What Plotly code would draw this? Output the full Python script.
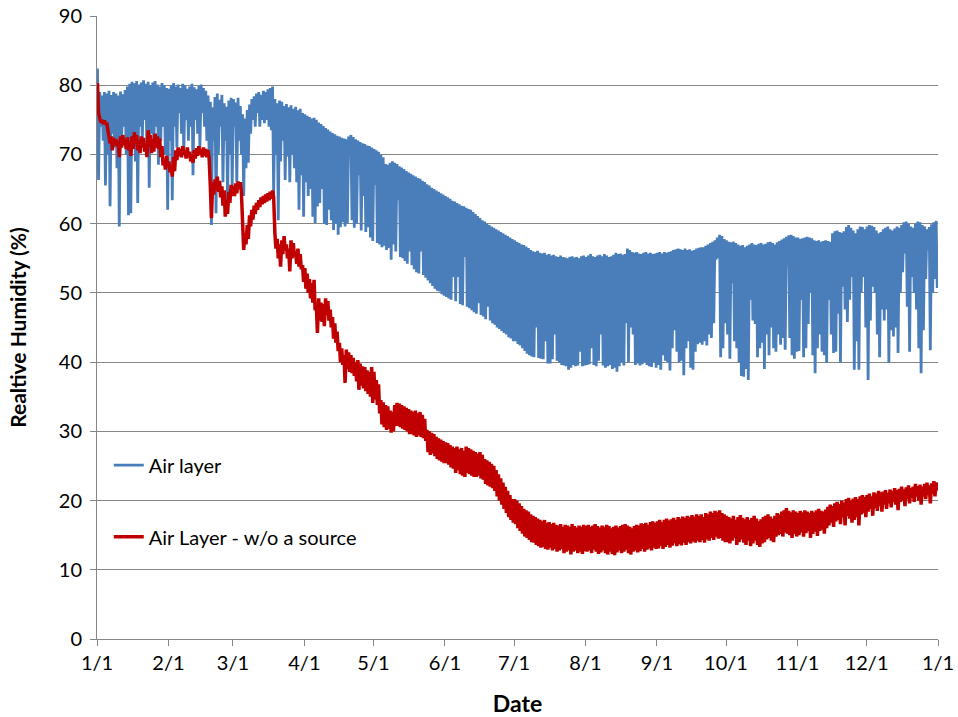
import numpy as np
import pandas as pd
import plotly.graph_objects as go

# Daily max / min relative humidity (%), one row block per month
blue_high = [
    82.4, 79.0, 78.5, 79.0, 78.8, 79.2, 78.6, 79.0, 78.8, 78.5, 79.1, 78.7, 79.3, 79.8, 80.2, 80.5,
    80.3, 80.6, 80.1, 80.4, 80.7, 80.2, 80.5, 80.0, 80.4, 80.6, 80.1, 79.8, 80.3, 80.0, 79.6,  # Jan
    79.5, 80.0, 80.3, 79.8, 80.1, 79.6, 80.2, 80.0, 79.5, 79.8, 80.2, 79.7, 79.4, 79.9,
    80.1, 79.6, 79.2, 78.5, 77.6, 76.8, 78.3, 78.8, 77.9, 78.6, 77.4, 76.9, 77.8, 78.2,  # Feb
    78.0, 77.5, 78.2, 77.0, 75.8, 75.2, 76.4, 77.2, 78.0, 78.4, 78.8, 79.0, 78.6, 79.2, 79.0, 79.4,
    79.6, 79.8, 78.0, 77.4, 77.8, 77.6, 77.0, 77.3, 76.8, 77.1, 76.6, 76.9, 76.4, 76.6, 76.0,  # Mar
    75.8, 75.6, 75.4, 75.2, 75.3, 75.0, 74.6, 74.4, 74.1, 73.8, 73.6, 73.3, 73.1, 72.9, 72.7,
    72.6, 72.4, 72.3, 72.2, 72.6, 72.8, 72.5, 72.2, 72.0, 71.8, 71.6, 71.5, 71.3, 71.2, 71.0,  # Apr
    70.8, 70.6, 70.4, 70.0, 69.6, 68.6, 68.5, 68.8, 69.0, 68.8, 68.6, 68.3, 68.1, 67.9, 67.6, 67.4,
    67.2, 67.0, 66.8, 66.6, 66.5, 66.2, 66.0, 65.7, 65.5, 65.2, 65.0, 64.8, 64.6, 64.4, 64.2,  # May
    64.0, 63.8, 63.6, 63.3, 63.2, 63.0, 62.8, 62.6, 62.5, 62.3, 62.1, 62.0, 61.7, 61.4, 61.1,
    60.8, 60.5, 60.3, 60.0, 59.8, 59.6, 59.4, 59.2, 59.0, 58.8, 58.6, 58.4, 58.2, 58.0, 57.8,  # Jun
    57.6, 57.4, 57.2, 57.0, 56.9, 56.7, 56.5, 56.2, 56.0, 55.9, 56.1, 55.8, 55.7, 55.8, 55.5, 55.6,
    55.4, 55.5, 55.3, 55.2, 55.4, 55.2, 55.1, 55.0, 55.2, 55.3, 55.1, 55.2, 55.0, 55.3, 55.4,  # Jul
    55.2, 55.4, 55.6, 55.3, 55.2, 55.4, 55.5, 55.3, 55.6, 55.4, 55.2, 55.3, 55.5, 55.8, 55.6, 55.7,
    55.5, 55.6, 56.4, 56.2, 55.9, 55.8, 55.9, 55.7, 55.6, 55.8, 55.9, 55.7, 55.8, 55.6, 55.7,  # Aug
    55.8, 55.9, 55.7, 55.9, 55.8, 55.9, 56.0, 56.2, 56.3, 56.4, 56.3, 56.2, 56.4, 56.2, 56.3,
    56.1, 56.2, 56.4, 56.5, 56.6, 56.6, 56.8, 57.0, 57.2, 57.4, 57.6, 58.0, 58.4, 58.2, 57.8,  # Sep
    57.6, 57.4, 57.3, 57.4, 57.2, 57.0, 56.8, 56.9, 56.6, 56.8, 57.0, 57.2, 57.0, 56.9, 57.1, 57.2,
    57.0, 57.1, 57.3, 57.4, 57.2, 57.0, 57.3, 57.5, 57.7, 57.9, 58.1, 58.3, 58.4, 58.2, 58.0,  # Oct
    58.0, 57.8, 57.9, 58.0, 58.1, 58.0, 57.9, 57.6, 57.5, 57.6, 57.4, 57.5, 57.6, 57.5, 57.4,
    58.6, 58.9, 59.0, 58.8, 58.7, 58.9, 59.5, 59.8, 59.4, 59.0, 58.6, 59.2, 59.6, 59.5, 59.2,  # Nov
    59.6, 59.8, 59.7, 59.5, 59.0, 58.6, 58.8, 59.2, 59.4, 59.6, 59.2, 59.0, 59.3, 59.6, 59.4, 59.8,
    60.2, 60.3, 60.0, 59.6, 59.4, 60.0, 60.3, 60.2, 59.8, 59.6, 59.2, 59.5, 59.9, 60.2, 60.4,  # Dec
]
blue_low = [
    66.3, 74.0, 72.0, 65.5, 70.0, 62.5, 73.0, 71.0, 68.0, 59.6, 72.0, 74.0, 70.0, 61.2, 61.5, 73.0,
    69.0, 63.0, 74.0, 72.0, 75.0, 70.0, 65.2, 73.0, 71.0, 74.0, 68.5, 72.0, 74.0, 70.0, 62.0,  # Jan
    72.0, 63.4, 74.0, 71.0, 76.0, 73.0, 70.0, 75.0, 72.0, 74.0, 67.0, 75.0, 73.0, 71.0,
    76.0, 74.0, 72.0, 70.0, 59.8, 72.0, 61.5, 70.0, 74.0, 66.0, 72.0, 63.0, 70.0, 65.3,  # Feb
    74.0, 66.0, 72.0, 70.0, 64.0, 68.0, 68.8, 73.0, 75.0, 74.0, 76.0, 74.0, 75.0, 74.5, 75.0, 74.0,
    73.5, 64.0, 70.0, 60.5, 69.0, 72.0, 66.3, 69.7, 66.0, 70.0, 68.0, 66.0, 62.0, 67.0, 61.0,  # Mar
    66.0, 64.0, 65.0, 61.0, 60.1, 62.5, 63.0, 65.0, 60.0, 59.8, 62.0, 60.5, 59.1, 60.0, 58.4,
    59.5, 60.2, 59.6, 60.0, 71.5, 60.5, 59.4, 60.0, 67.0, 59.0, 64.0, 58.8, 59.5, 58.0, 57.5,  # Apr
    65.6, 57.2, 57.0, 56.6, 56.8, 56.2, 56.5, 54.8, 57.0, 56.0, 63.4, 55.2, 55.0, 54.6, 54.2, 56.0,
    54.0, 53.4, 53.0, 52.8, 56.0, 52.6, 52.2, 51.8, 51.4, 51.0, 50.6, 50.3, 50.2, 49.8, 49.6,  # May
    49.4, 49.2, 49.0, 52.3, 48.8, 52.3, 48.4, 48.2, 55.2, 48.0, 47.8, 47.5, 47.2, 47.0, 48.5,
    46.8, 46.6, 46.2, 48.0, 46.0, 45.6, 45.4, 45.0, 44.8, 44.5, 44.2, 44.0, 43.6, 43.4, 43.0,  # Jun
    43.0, 42.6, 42.4, 42.0, 41.6, 41.2, 41.0, 40.8, 40.7, 45.0, 40.6, 40.5, 40.4, 43.0, 39.8, 39.8,
    40.4, 44.0, 40.2, 40.0, 39.6, 39.5, 39.4, 38.9, 39.2, 39.6, 39.4, 39.5, 41.5, 39.4, 39.5,  # Jul
    39.6, 39.7, 42.0, 39.6, 39.4, 40.2, 44.0, 39.5, 39.2, 39.4, 39.6, 39.0, 39.2, 38.6, 39.4, 40.0,
    39.5, 45.6, 40.0, 45.0, 44.0, 39.6, 39.8, 39.5, 39.7, 40.0, 39.6, 39.4, 39.3, 40.0, 39.2,  # Aug
    39.6, 38.9, 41.0, 40.2, 40.0, 38.8, 42.0, 44.6, 41.5, 40.0, 40.2, 38.1, 42.0, 43.0, 39.2,
    38.9, 41.5, 42.6, 42.8, 42.5, 43.0, 42.4, 44.0, 43.5, 45.6, 54.8, 55.0, 40.7, 42.0, 45.6,  # Sep
    44.0, 40.5, 51.4, 43.0, 42.0, 40.0, 38.0, 37.9, 39.0, 37.4, 49.0, 46.0, 45.5, 40.7, 42.0, 42.8,
    39.0, 44.0, 41.0, 45.0, 42.0, 41.5, 44.0, 42.5, 43.5, 41.8, 54.0, 43.5, 41.0, 40.5, 41.5,  # Oct
    41.6, 49.0, 40.7, 42.0, 45.5, 50.0, 41.0, 38.4, 42.0, 44.0, 41.5, 41.0, 39.9, 49.0, 44.0,
    41.3, 41.5, 47.0, 39.9, 50.9, 47.6, 45.8, 49.0, 52.3, 38.9, 43.0, 38.9, 50.0, 52.3, 45.0,  # Nov
    37.4, 46.0, 50.9, 50.0, 44.0, 40.7, 47.6, 46.0, 47.6, 39.9, 44.6, 43.7, 45.0, 41.3, 50.0, 53.0,
    55.7, 48.0, 41.5, 52.3, 50.0, 47.6, 42.0, 38.4, 44.6, 52.0, 56.2, 41.7, 50.0, 52.0, 50.7,  # Dec
]
red_high = [
    80.3, 75.2, 75.0, 74.9, 74.6, 72.8, 72.6, 72.4, 72.2, 71.8, 72.6, 72.8, 72.2, 72.5, 71.8, 72.6,
    73.2, 72.8, 72.0, 72.6, 72.4, 71.6, 73.5, 72.8, 72.2, 73.0, 72.6, 72.3, 71.2, 69.4, 69.8,  # Jan
    69.0, 68.2, 69.6, 70.6, 71.0, 70.8, 71.2, 70.6, 71.0, 70.4, 70.0, 70.6, 70.9, 71.2,
    70.8, 71.0, 70.8, 70.6, 65.2, 66.0, 66.4, 66.8, 66.2, 65.4, 64.8, 63.4, 64.6, 65.6,  # Feb
    65.4, 65.8, 66.1, 66.0, 60.0, 58.6, 59.8, 61.2, 62.0, 62.6, 63.0, 63.4, 63.8, 64.0, 64.2, 64.4,
    64.6, 64.8, 58.6, 57.8, 57.0, 57.6, 58.2, 57.0, 56.4, 57.6, 57.2, 56.0, 56.4, 55.6, 54.0,  # Mar
    53.6, 52.8, 52.0, 51.4, 51.9, 48.0, 49.2, 48.6, 48.4, 49.2, 48.8, 47.6, 46.5, 45.6, 44.4,
    42.8, 42.0, 41.0, 41.8, 41.4, 41.0, 40.6, 40.0, 40.3, 39.8, 39.4, 39.3, 38.8, 38.6, 39.3,  # Apr
    38.6, 37.4, 36.8, 34.5, 34.2, 33.8, 33.6, 33.0, 32.8, 33.8, 34.1, 34.0, 33.8, 33.6, 33.4, 33.2,
    33.0, 32.8, 33.0, 32.6, 32.8, 32.4, 31.8, 30.2, 30.0, 29.8, 29.6, 29.2, 29.0, 28.8, 28.6,  # May
    28.4, 28.3, 28.0, 27.8, 27.6, 27.8, 27.4, 27.6, 27.2, 27.8, 27.6, 27.4, 27.2, 27.0, 26.8,
    27.0, 26.6, 26.0, 25.8, 25.6, 25.3, 25.0, 24.4, 23.8, 23.2, 22.6, 22.0, 21.4, 20.8, 20.2,  # Jun
    20.2, 20.0, 19.6, 19.2, 18.8, 18.6, 18.4, 18.0, 17.8, 17.6, 17.4, 17.2, 17.0, 17.2, 16.8, 16.9,
    16.6, 16.8, 16.5, 16.4, 16.6, 16.2, 16.5, 16.4, 16.2, 16.6, 16.3, 16.1, 16.4, 16.2, 16.5,  # Jul
    16.3, 16.5, 16.2, 16.4, 16.6, 16.3, 16.1, 16.4, 16.2, 16.5, 16.3, 16.0, 16.2, 16.4, 16.1, 16.3,
    16.5, 16.6, 16.4, 16.2, 16.0, 16.3, 16.5, 16.4, 16.7, 16.6, 16.8, 16.5, 16.9, 17.0, 16.8,  # Aug
    17.0, 17.2, 16.9, 17.2, 17.4, 17.1, 17.3, 17.5, 17.2, 17.6, 17.4, 17.7, 17.5, 17.8, 17.6,
    17.9, 17.7, 18.0, 17.8, 18.0, 17.6, 18.2, 18.0, 18.4, 18.2, 18.5, 18.3, 18.6, 18.2, 18.0,  # Sep
    17.8, 17.6, 17.4, 17.8, 17.2, 17.6, 17.9, 17.5, 17.3, 17.6, 17.2, 17.5, 17.8, 17.4, 17.0, 17.3,
    17.6, 17.8, 18.0, 17.7, 17.4, 17.8, 18.2, 18.0, 18.4, 18.6, 18.9, 18.5, 18.3, 18.6, 18.4,  # Oct
    18.2, 18.5, 18.3, 18.6, 18.4, 18.2, 18.5, 18.3, 18.6, 18.8, 18.5, 18.4, 18.7, 19.1, 19.4,
    19.2, 19.6, 19.8, 19.5, 20.0, 19.7, 20.2, 20.4, 20.0, 20.3, 20.5, 20.2, 20.6, 20.8, 20.5,  # Nov
    20.8, 21.0, 20.6, 21.2, 21.0, 21.4, 21.2, 21.3, 21.5, 21.1, 21.6, 21.4, 21.8, 21.5, 21.7, 22.0,
    21.6, 21.9, 22.2, 21.8, 22.0, 22.4, 22.1, 22.3, 22.0, 22.4, 22.6, 22.2, 22.5, 22.8, 22.6,  # Dec
]
red_low = [
    76.0, 74.6, 74.4, 74.3, 73.8, 71.6, 70.6, 71.4, 71.2, 69.6, 71.0, 71.4, 70.8, 70.6, 69.8, 70.8,
    71.6, 70.6, 70.2, 71.0, 70.4, 69.6, 71.2, 70.2, 70.4, 71.0, 70.8, 69.6, 68.4, 67.8, 68.2,  # Jan
    67.4, 66.8, 67.6, 69.2, 69.8, 69.6, 70.0, 69.4, 69.6, 69.0, 68.8, 69.4, 69.8, 70.0,
    69.6, 69.8, 69.6, 69.4, 60.8, 64.2, 64.8, 64.6, 63.8, 62.6, 61.0, 61.4, 63.0, 64.0,  # Feb
    64.0, 64.4, 65.0, 64.6, 56.2, 57.0, 57.8, 59.6, 60.6, 61.4, 62.0, 62.4, 62.8, 63.0, 63.2, 63.4,
    63.6, 63.8, 56.4, 55.0, 53.8, 55.6, 56.2, 55.0, 53.1, 55.0, 55.2, 54.2, 53.8, 53.4, 51.6,  # Mar
    50.6, 50.0, 49.2, 48.6, 47.5, 44.2, 46.0, 45.8, 45.2, 46.8, 46.0, 45.0, 43.4, 42.8, 41.6,
    40.0, 39.6, 37.0, 39.0, 38.6, 38.4, 38.0, 37.2, 36.0, 36.6, 36.2, 35.8, 35.4, 35.0, 34.1,  # Apr
    34.6, 33.8, 32.6, 31.0, 30.6, 30.2, 30.4, 29.8, 30.0, 30.8, 30.8, 30.6, 30.4, 30.2, 30.0, 29.6,
    29.6, 29.4, 29.2, 29.4, 29.2, 29.0, 28.6, 27.0, 26.6, 26.8, 26.4, 26.0, 25.8, 25.6, 25.4,  # May
    25.4, 25.2, 24.8, 24.6, 24.0, 24.4, 23.8, 23.6, 23.4, 24.0, 23.8, 23.6, 23.4, 23.4, 23.6,
    23.2, 23.0, 22.4, 22.2, 22.0, 21.8, 21.4, 20.6, 20.0, 19.4, 18.8, 18.2, 17.6, 17.2, 16.8,  # Jun
    16.6, 16.0, 15.6, 15.2, 14.8, 14.6, 14.3, 14.0, 13.9, 13.6, 13.4, 13.2, 13.3, 13.0, 12.9, 13.2,
    12.8, 13.0, 12.6, 12.8, 13.0, 12.4, 12.6, 12.8, 12.2, 12.6, 12.8, 12.4, 12.6, 12.3, 12.7,  # Jul
    12.6, 12.8, 12.4, 12.9, 12.6, 12.3, 12.5, 12.8, 12.4, 12.2, 12.6, 12.3, 12.1, 12.5, 12.8, 12.4,
    12.6, 12.9, 12.4, 12.2, 12.6, 12.8, 12.5, 12.7, 13.0, 12.6, 12.9, 13.1, 12.8, 13.2, 13.0,  # Aug
    13.1, 13.4, 13.0, 13.3, 13.6, 13.2, 13.5, 13.8, 13.4, 13.7, 13.5, 13.9, 13.6, 14.0, 13.8,
    14.1, 13.9, 14.2, 14.0, 14.3, 13.9, 14.4, 14.2, 14.6, 14.3, 14.8, 14.5, 14.6, 14.2, 14.0,  # Sep
    14.0, 13.8, 14.2, 14.6, 13.6, 14.0, 14.4, 13.9, 13.6, 14.2, 13.4, 13.8, 14.2, 13.6, 13.3, 13.8,
    14.0, 14.4, 14.6, 14.2, 14.0, 14.8, 15.0, 15.2, 14.8, 15.4, 15.2, 15.0, 14.6, 15.2, 14.8,  # Oct
    15.0, 15.4, 14.8, 15.3, 15.6, 14.6, 15.2, 15.5, 14.9, 15.6, 15.8, 15.2, 16.0, 16.4, 16.8,
    16.2, 17.0, 17.2, 16.6, 17.6, 16.4, 17.8, 17.4, 16.8, 17.2, 17.6, 16.4, 18.0, 18.2, 17.6,  # Nov
    18.4, 18.8, 17.8, 18.9, 18.5, 19.2, 18.4, 19.4, 18.8, 19.6, 19.0, 19.8, 19.4, 18.6, 19.8, 20.0,
    19.2, 20.2, 19.6, 20.4, 19.8, 20.6, 20.0, 19.4, 20.6, 20.2, 20.8, 19.6, 21.0, 20.6, 21.4,  # Dec
]

for name, s in [("blue_high", blue_high), ("blue_low", blue_low), ("red_high", red_high), ("red_low", red_low)]:
    assert len(s) == 365, f"{name} has {len(s)} values"


# put the daily max and min of each day one after the other so the line swings like the hourly data
def daily_swing(high, low):
    days = pd.date_range("2013-01-01", periods=len(high), freq="D")
    t = np.empty(2 * len(days), dtype="datetime64[ns]")
    t[0::2] = (days + pd.Timedelta(hours=5)).values
    t[1::2] = (days + pd.Timedelta(hours=16)).values
    v = np.empty(2 * len(high))
    v[0::2] = high
    v[1::2] = low
    return t, v


font_family = "Lato, 'Open Sans', sans-serif"
grid_col = "#868686"

fig = go.Figure()
t, v = daily_swing(blue_high, blue_low)
fig.add_trace(go.Scatter(x=t, y=v, mode="lines", name="Air layer", showlegend=True,
                         line=dict(color="#4a7ebb", width=2.8), legend="legend"))
t, v = daily_swing(red_high, red_low)
fig.add_trace(go.Scatter(x=t, y=v, mode="lines", name="Air Layer - w/o a source", showlegend=True,
                         line=dict(color="#c00000", width=3.5), legend="legend2"))

legend_style = dict(x=0.014, xanchor="left", yanchor="middle", bgcolor="rgba(0,0,0,0)",
                    font=dict(family=font_family, size=20, color="black"), itemwidth=30)

fig.update_layout(
    width=958, height=717,
    margin=dict(l=97, r=20, t=16, b=78),
    paper_bgcolor="white", plot_bgcolor="white",
    font=dict(family=font_family, size=20, color="black"),
    showlegend=True,
    legend=dict(y=0.279, visible=True, **legend_style),
    legend2=dict(y=0.164, visible=True, **legend_style),
)
fig.update_xaxes(
    type="date", range=["2013-01-01", "2014-01-01"],
    tick0="2013-01-01", dtick="M1", tickformat="%-m/%-d",
    showgrid=False, showline=True, linecolor=grid_col, linewidth=1,
    ticks="outside", ticklen=6, tickcolor=grid_col, automargin=False, ticklabeloverflow="allow",
    title=dict(text="<b>Date</b>", font=dict(size=23), standoff=23),
)
fig.update_yaxes(
    range=[0, 90], dtick=10,
    showgrid=True, gridcolor=grid_col, gridwidth=1, zeroline=False,
    showline=True, linecolor=grid_col, linewidth=1,
    ticks="outside", ticklen=6, tickcolor=grid_col, automargin=False, ticklabelstandoff=4,
    ticklabeloverflow="allow",
    title=dict(text="<b>Realtive Humidity (%)</b>", font=dict(size=21), standoff=26),
)

# drop the browser's default 8px page margin so the figure sits at the window's corner
fig.write_html("out.html", config={"displayModeBar": False},
               post_script="document.body.style.margin = '0';")
